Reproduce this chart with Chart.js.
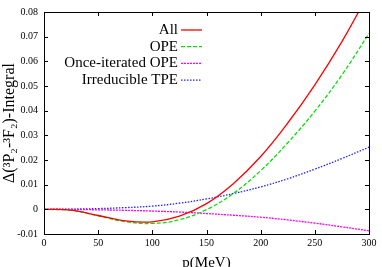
<!DOCTYPE html>
<html>
<head>
<meta charset="utf-8">
<script src="https://cdn.jsdelivr.net/npm/chart.js@4.4.1/dist/chart.umd.min.js"></script>
<style>
  html, body { margin: 0; padding: 0; background: #fff; overflow: hidden; }
  canvas { display: block; }
</style>
</head>
<body>
<canvas id="chart" width="382" height="272"></canvas>
<script>
// momentum grid (MeV)
const momenta = [0, 25, 50, 75, 100, 125, 150, 175, 200, 225, 250, 275, 300];

// values
const allValues = [0, -0.0003, -0.0025, -0.0047, -0.0051, -0.0028, 0.0023, 0.0105, 0.0214, 0.0350, 0.0505, 0.0680, 0.0878];
const opeValues = [0, -0.0004, -0.0026, -0.0050, -0.0057, -0.0042, -0.0001, 0.0065, 0.0157, 0.0270, 0.0398, 0.0545, 0.0713];
const onceIteratedValues = [0, -0.00005, -0.0002, -0.0004, -0.0007, -0.0011, -0.0017, -0.0024, -0.0032, -0.0043, -0.0056, -0.0071, -0.0087];
const tpeValues = [0, 0.0001, 0.0003, 0.0007, 0.0013, 0.0025, 0.0042, 0.0064, 0.0091, 0.0124, 0.0163, 0.0206, 0.0252];

const seriesNames = ['All', 'OPE', 'Once-iterated OPE', 'Irreducible TPE'];

const xTicks = [0, 50, 100, 150, 200, 250, 300];
const xTickLabels = ['0', '50', '100', '150', '200', '250', '300'];
const yTicks = [-0.01, 0, 0.01, 0.02, 0.03, 0.04, 0.05, 0.06, 0.07, 0.08];
const yTickLabels = ['-0.01', '0', '0.01', '0.02', '0.03', '0.04', '0.05', '0.06', '0.07', '0.08'];

const FONT = "'Liberation Serif', 'Times New Roman', serif";

const toPoints = (vals) => momenta.map((p, i) => ({ x: p, y: vals[i] }));

// gnuplot-like frame with inward ticks on all four sides
const framePlugin = {
  id: 'frame',
  afterDraw(chart) {
    const { ctx, chartArea: a, scales } = chart;
    ctx.save();
    ctx.strokeStyle = '#000';
    ctx.lineWidth = 1;
    ctx.strokeRect(a.left + 0.5, a.top + 0.5, a.right - a.left, a.bottom - a.top);
    const len = 4;
    ctx.beginPath();
    xTicks.forEach((v) => {
      const x = Math.round(scales.x.getPixelForValue(v)) + 0.5;
      ctx.moveTo(x, a.bottom); ctx.lineTo(x, a.bottom - len);
      ctx.moveTo(x, a.top); ctx.lineTo(x, a.top + len);
    });
    yTicks.forEach((v) => {
      const y = Math.round(scales.y.getPixelForValue(v)) + 0.5;
      ctx.moveTo(a.left, y); ctx.lineTo(a.left + len, y);
      ctx.moveTo(a.right, y); ctx.lineTo(a.right - len, y);
    });
    ctx.stroke();

    // legend, text right-aligned with the line sample on its right
    ctx.font = '15px ' + FONT;
    ctx.textAlign = 'right';
    ctx.textBaseline = 'middle';
    const textRight = a.left + 134;
    chart.data.datasets.forEach((ds, i) => {
      const y = a.top + 18 + i * 16.7;
      ctx.fillStyle = '#000';
      ctx.fillText(ds.label, textRight, y);
      ctx.beginPath();
      ctx.strokeStyle = ds.borderColor;
      ctx.lineWidth = ds.borderWidth;
      ctx.setLineDash(ds.borderDash || []);
      ctx.moveTo(textRight + 3, y);
      ctx.lineTo(textRight + 24, y);
      ctx.stroke();
      ctx.setLineDash([]);
    });
    ctx.restore();
  }
};

const ctx = document.getElementById('chart').getContext('2d');
new Chart(ctx, {
  type: 'line',
  data: {
    datasets: [
      { label: seriesNames[0], data: toPoints(allValues), borderColor: '#ff0000', borderWidth: 1.3, borderDash: [] },
      { label: seriesNames[1], data: toPoints(opeValues), borderColor: '#10dd10', borderWidth: 1.3, borderDash: [4, 2] },
      { label: seriesNames[2], data: toPoints(onceIteratedValues), borderColor: '#ff00ff', borderWidth: 1.3, borderDash: [2, 1] },
      { label: seriesNames[3], data: toPoints(tpeValues), borderColor: '#2020ff', borderWidth: 1.3, borderDash: [1.5, 1.5] },
    ],
  },
  options: {
    responsive: false,
    animation: false,
    layout: { padding: { top: 8, right: 13, left: 0, bottom: 0 } },
    elements: { point: { radius: 0 }, line: { tension: 0.4, fill: false } },
    plugins: { legend: { display: false }, tooltip: { enabled: false } },
    scales: {
      x: {
        type: 'linear',
        min: 0,
        max: 300,
        afterBuildTicks: (s) => { s.ticks = xTicks.map((v) => ({ value: v })); },
        afterFit: (s) => { s.height = 38; },
        ticks: {
          color: '#000',
          font: { family: FONT, size: 10 },
          padding: 3,
          maxRotation: 0,
          callback: (v, i) => xTickLabels[i],
        },
        grid: { display: false, drawTicks: false },
        border: { display: false },
        title: { display: true, text: 'p(MeV)', color: '#000', font: { family: FONT, size: 15 }, padding: { top: 0, bottom: 0 } },
      },
      y: {
        type: 'linear',
        min: -0.01,
        max: 0.08,
        afterBuildTicks: (s) => { s.ticks = yTicks.map((v) => ({ value: v })); },
        afterFit: (s) => { s.width = 44; },
        ticks: {
          color: '#000',
          font: { family: FONT, size: 10 },
          padding: 6,
          callback: (v, i) => yTickLabels[i],
        },
        grid: { display: false, drawTicks: false },
        border: { display: false },
        title: { display: true, text: 'Δ(³P₂-³F₂)-Integral', color: '#000', font: { family: FONT, size: 16 }, padding: { top: 0, bottom: 0 } },
      },
    },
  },
  plugins: [framePlugin],
});
</script>
</body>
</html>
